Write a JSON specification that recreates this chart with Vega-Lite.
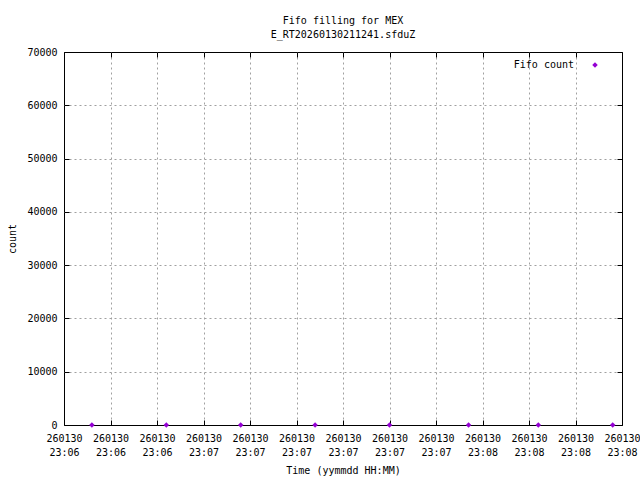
{
  "$schema": "https://vega.github.io/schema/vega-lite/v6.json",
  "width": 558,
  "height": 373,
  "autosize": {"type": "none"},
  "padding": {"left": 64, "top": 52, "right": 18, "bottom": 55},
  "background": "white",
  "title": {
    "text": ["Fifo filling for MEX", "E_RT20260130211241.sfduZ"],
    "font": "DejaVu Sans Mono",
    "fontSize": 10,
    "fontWeight": "normal",
    "color": "black",
    "lineHeight": 14,
    "anchor": "middle",
    "offset": 7
  },
  "config": {
    "font": "DejaVu Sans Mono",
    "view": {"stroke": "black", "strokeWidth": 1},
    "axis": {
      "labelFont": "DejaVu Sans Mono",
      "labelFontSize": 10,
      "labelColor": "black",
      "titleFont": "DejaVu Sans Mono",
      "titleFontSize": 10,
      "titleFontWeight": "normal",
      "titleColor": "black",
      "domain": false,
      "tickColor": "black",
      "tickSize": -5,
      "tickWidth": 1,
      "gridColor": "#a0a0a0",
      "gridDash": [2, 3],
      "gridWidth": 1
    },
    "legend": {
      "labelFont": "DejaVu Sans Mono",
      "labelFontSize": 10,
      "labelColor": "black",
      "padding": 0
    }
  },
  "data": {
    "values": [
      {"t": "2026-01-30T23:06:36Z", "count": 0, "series": "Fifo count"},
      {"t": "2026-01-30T23:06:52Z", "count": 0, "series": "Fifo count"},
      {"t": "2026-01-30T23:07:08Z", "count": 0, "series": "Fifo count"},
      {"t": "2026-01-30T23:07:24Z", "count": 0, "series": "Fifo count"},
      {"t": "2026-01-30T23:07:40Z", "count": 0, "series": "Fifo count"},
      {"t": "2026-01-30T23:07:57Z", "count": 0, "series": "Fifo count"},
      {"t": "2026-01-30T23:08:12Z", "count": 0, "series": "Fifo count"},
      {"t": "2026-01-30T23:08:28Z", "count": 0, "series": "Fifo count"}
    ]
  },
  "layer": [
    {
      "mark": {"type": "point", "filled": true, "shape": "diamond", "size": 30, "opacity": 1},
      "encoding": {
        "x": {
          "field": "t",
          "type": "temporal",
          "scale": {
            "type": "utc",
            "domain": [
              {"year": 2026, "month": 1, "date": 30, "hours": 23, "minutes": 6, "seconds": 30, "utc": true},
              {"year": 2026, "month": 1, "date": 30, "hours": 23, "minutes": 8, "seconds": 30, "utc": true}
            ],
            "nice": false
          },
          "axis": {
            "orient": "bottom",
            "title": "Time (yymmdd HH:MM)",
            "values": [
              {"year": 2026, "month": 1, "date": 30, "hours": 23, "minutes": 6, "seconds": 30, "utc": true},
              {"year": 2026, "month": 1, "date": 30, "hours": 23, "minutes": 6, "seconds": 40, "utc": true},
              {"year": 2026, "month": 1, "date": 30, "hours": 23, "minutes": 6, "seconds": 50, "utc": true},
              {"year": 2026, "month": 1, "date": 30, "hours": 23, "minutes": 7, "seconds": 0, "utc": true},
              {"year": 2026, "month": 1, "date": 30, "hours": 23, "minutes": 7, "seconds": 10, "utc": true},
              {"year": 2026, "month": 1, "date": 30, "hours": 23, "minutes": 7, "seconds": 20, "utc": true},
              {"year": 2026, "month": 1, "date": 30, "hours": 23, "minutes": 7, "seconds": 30, "utc": true},
              {"year": 2026, "month": 1, "date": 30, "hours": 23, "minutes": 7, "seconds": 40, "utc": true},
              {"year": 2026, "month": 1, "date": 30, "hours": 23, "minutes": 7, "seconds": 50, "utc": true},
              {"year": 2026, "month": 1, "date": 30, "hours": 23, "minutes": 8, "seconds": 0, "utc": true},
              {"year": 2026, "month": 1, "date": 30, "hours": 23, "minutes": 8, "seconds": 10, "utc": true},
              {"year": 2026, "month": 1, "date": 30, "hours": 23, "minutes": 8, "seconds": 20, "utc": true},
              {"year": 2026, "month": 1, "date": 30, "hours": 23, "minutes": 8, "seconds": 30, "utc": true}
            ],
            "labelExpr": "[utcFormat(datum.value, '%y%m%d'), utcFormat(datum.value, '%H:%M')]",
            "labelLineHeight": 14,
            "labelPadding": 13,
            "labelFlush": false,
            "labelOverlap": false,
            "titlePadding": 8,
            "grid": true,
            "gridOpacity": {"condition": {"test": "datum.index == 0 || datum.index == 1", "value": 0}, "value": 1}
          }
        },
        "y": {
          "field": "count",
          "type": "quantitative",
          "scale": {"domain": [0, 70000], "nice": false},
          "axis": {
            "orient": "left",
            "title": "count",
            "values": [0, 10000, 20000, 30000, 40000, 50000, 60000, 70000],
            "format": "d",
            "labelPadding": 12,
            "titlePadding": 9,
            "grid": true,
            "gridOpacity": {"condition": {"test": "datum.index == 0 || datum.index == 1", "value": 0}, "value": 1}
          }
        },
        "color": {
          "field": "series",
          "type": "nominal",
          "scale": {"range": ["#9400d3"]},
          "legend": {
            "title": null,
            "orient": "none",
            "legendX": 526,
            "legendY": 8,
            "symbolType": "diamond",
            "symbolSize": 30,
            "labelAlign": "right",
            "labelOffset": -26
          }
        }
      }
    },
    {
      "mark": {"type": "point", "filled": true, "shape": "diamond", "size": 30, "opacity": 0},
      "encoding": {
        "x": {
          "field": "t",
          "type": "temporal",
          "axis": {
            "orient": "top",
            "title": null,
            "labels": false,
            "grid": false,
            "values": [
              {"year": 2026, "month": 1, "date": 30, "hours": 23, "minutes": 6, "seconds": 30, "utc": true},
              {"year": 2026, "month": 1, "date": 30, "hours": 23, "minutes": 6, "seconds": 40, "utc": true},
              {"year": 2026, "month": 1, "date": 30, "hours": 23, "minutes": 6, "seconds": 50, "utc": true},
              {"year": 2026, "month": 1, "date": 30, "hours": 23, "minutes": 7, "seconds": 0, "utc": true},
              {"year": 2026, "month": 1, "date": 30, "hours": 23, "minutes": 7, "seconds": 10, "utc": true},
              {"year": 2026, "month": 1, "date": 30, "hours": 23, "minutes": 7, "seconds": 20, "utc": true},
              {"year": 2026, "month": 1, "date": 30, "hours": 23, "minutes": 7, "seconds": 30, "utc": true},
              {"year": 2026, "month": 1, "date": 30, "hours": 23, "minutes": 7, "seconds": 40, "utc": true},
              {"year": 2026, "month": 1, "date": 30, "hours": 23, "minutes": 7, "seconds": 50, "utc": true},
              {"year": 2026, "month": 1, "date": 30, "hours": 23, "minutes": 8, "seconds": 0, "utc": true},
              {"year": 2026, "month": 1, "date": 30, "hours": 23, "minutes": 8, "seconds": 10, "utc": true},
              {"year": 2026, "month": 1, "date": 30, "hours": 23, "minutes": 8, "seconds": 20, "utc": true},
              {"year": 2026, "month": 1, "date": 30, "hours": 23, "minutes": 8, "seconds": 30, "utc": true}
            ]
          }
        },
        "y": {
          "field": "count",
          "type": "quantitative",
          "axis": {
            "orient": "right",
            "title": null,
            "labels": false,
            "grid": false,
            "values": [0, 10000, 20000, 30000, 40000, 50000, 60000, 70000]
          }
        }
      }
    }
  ],
  "resolve": {"axis": {"x": "independent", "y": "independent"}}
}
